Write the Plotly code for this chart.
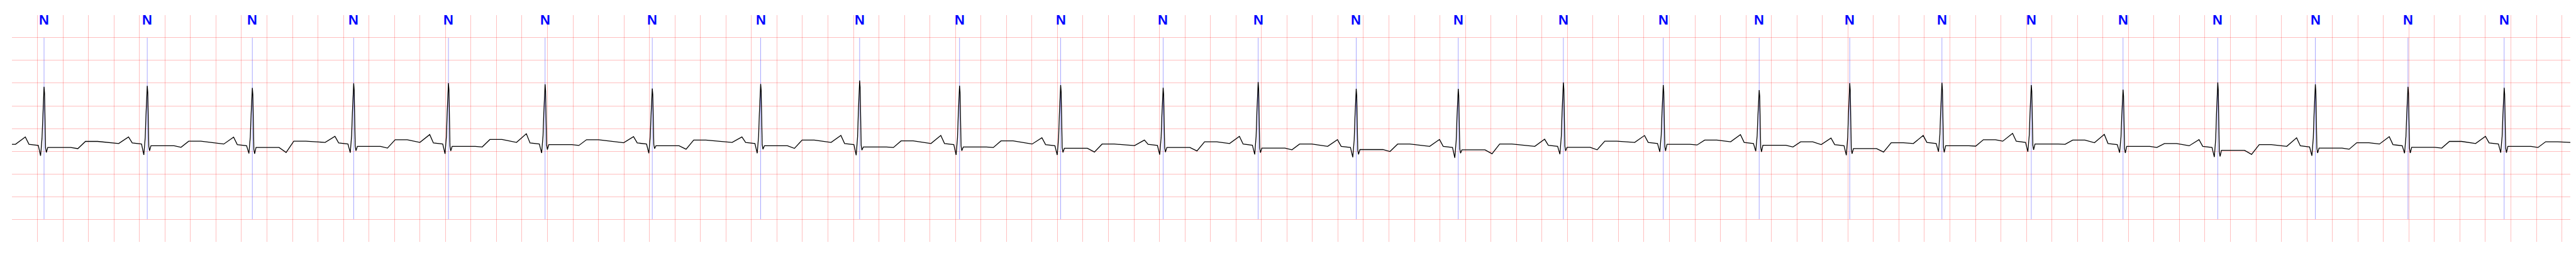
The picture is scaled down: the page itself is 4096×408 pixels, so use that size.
import plotly.graph_objects as go

# ---- data (time in s, amplitude in mV) ----
R_TIMES = [0.2517, 1.0613, 1.8854, 2.6803, 3.4236, 4.1814, 5.0222, 5.8723, 6.6486, 7.4322,
           8.2252, 9.0291, 9.7743, 10.5434, 11.3436, 12.1680, 12.9516, 13.7040, 14.4143,
           15.1373, 15.8382, 16.5577, 17.3007, 18.0660, 18.7927, 19.5470]
LABELS = ["N"] * 26
R_AMP = [0.919, 0.939, 0.894, 0.995, 1.000, 0.975, 0.881, 0.982, 1.058, 0.944, 0.957, 0.899, 1.025,
         0.876, 0.874, 1.015, 0.957, 0.848, 1.000, 1.008, 0.957, 0.856, 1.015, 0.975, 0.919, 0.899]
Q_AMP = [-0.601, -0.583, -0.551, -0.533, -0.558, -0.540, -0.545, -0.545, -0.588, -0.583, -0.583, -0.576, -0.571,
         -0.634, -0.646, -0.566, -0.515, -0.500, -0.588, -0.513, -0.513, -0.533, -0.629, -0.601, -0.545, -0.533]
S_AMP = [-0.528, -0.490, -0.558, -0.490, -0.495, -0.465, -0.444, -0.457, -0.477, -0.490, -0.528, -0.520, -0.533,
         -0.571, -0.545, -0.495, -0.495, -0.515, -0.558, -0.525, -0.470, -0.540, -0.616, -0.540, -0.540, -0.533]
P_AMP = [-0.187, -0.187, -0.192, -0.172, -0.134, -0.116, -0.180, -0.187, -0.154, -0.154, -0.205, -0.255, -0.172,
         -0.247, -0.242, -0.237, -0.154, -0.136, -0.210, -0.154, -0.109, -0.129, -0.247, -0.205, -0.180, -0.172]
PR_LEVEL = [-0.374, -0.343, -0.381, -0.343, -0.343, -0.343, -0.343, -0.331, -0.356, -0.356, -0.381, -0.374, -0.369,
            -0.419, -0.419, -0.394, -0.331, -0.331, -0.381, -0.331, -0.306, -0.356, -0.419, -0.407, -0.381, -0.343]
ST_LEVEL = [-0.419, -0.381, -0.419, -0.394, -0.394, -0.356, -0.381, -0.381, -0.407, -0.407, -0.437, -0.419, -0.432,
            -0.465, -0.470, -0.414, -0.348, -0.369, -0.444, -0.381, -0.343, -0.394, -0.482, -0.432, -0.414, -0.394]
ST_DIP = [-0.444, -0.414, -0.528, -0.432, -0.407, -0.374, -0.457, -0.439, -0.419, -0.419, -0.520, -0.495, -0.470,
          -0.508, -0.558, -0.470, -0.364, -0.407, -0.520, -0.389, -0.348, -0.419, -0.571, -0.457, -0.432, -0.419]
T_LEVEL = [-0.285, -0.280, -0.280, -0.247, -0.242, -0.247, -0.255, -0.255, -0.273, -0.273, -0.343, -0.293, -0.343,
           -0.343, -0.343, -0.280, -0.255, -0.293, -0.313, -0.247, -0.255, -0.331, -0.356, -0.313, -0.285, -0.293]
T_END = [-0.331, -0.343, -0.306, -0.306, -0.306, -0.313, -0.306, -0.306, -0.331, -0.343, -0.376, -0.331, -0.394,
         -0.394, -0.394, -0.306, -0.293, -0.356, -0.331, -0.280, -0.313, -0.381, -0.394, -0.343, -0.331, -0.318]
START_LEVEL = -0.348
END_LEVEL = -0.306
T_MAX = 20.066

# beat timing landmarks relative to the R peak (s)
OFF_P_START, OFF_P_PEAK, OFF_P_DROP, OFF_Q_ON, OFF_Q = -0.224, -0.147, -0.118, -0.045, -0.027
UP_OFFS, UP_FRAC = [-0.016, -0.010, -0.004], [0.25, 0.58, 0.92]
DOWN_OFFS, DOWN_FRAC = [0.004, 0.008, 0.012], [0.90, 0.40, 0.07]
OFF_S, OFF_J, OFF_ST, OFF_DIP, OFF_T_ON, OFF_T_HOLD = 0.018, 0.029, 0.21, 0.265, 0.325, 0.42

# ---- build the trace from the per-beat landmarks ----
xs, ys = [0.0], [START_LEVEL]
prev_end = START_LEVEL
for i, r in enumerate(R_TIMES):
    xs += [r + OFF_P_START, r + OFF_P_PEAK, r + OFF_P_DROP, r + OFF_Q_ON, r + OFF_Q]
    ys += [prev_end, P_AMP[i], PR_LEVEL[i] + 0.025, PR_LEVEL[i], Q_AMP[i]]
    for o, f in zip(UP_OFFS, UP_FRAC):
        xs.append(r + o)
        ys.append(Q_AMP[i] + f * (R_AMP[i] - Q_AMP[i]))
    xs.append(r)
    ys.append(R_AMP[i])
    for o, f in zip(DOWN_OFFS, DOWN_FRAC):
        xs.append(r + o)
        ys.append(S_AMP[i] + f * (R_AMP[i] - S_AMP[i]))
    xs += [r + OFF_S, r + OFF_J, r + OFF_ST, r + OFF_DIP, r + OFF_T_ON, r + OFF_T_HOLD]
    ys += [S_AMP[i], ST_LEVEL[i], ST_LEVEL[i], ST_DIP[i], T_LEVEL[i], T_LEVEL[i]]
    prev_end = T_END[i]
xs.append(T_MAX)
ys.append(END_LEVEL)

# annotation marker lines
bx, by = [], []
for r in R_TIMES:
    bx += [r, r, None]
    by += [-2.0, 2.0, None]

fig = go.Figure()
fig.add_trace(go.Scatter(x=bx, y=by, mode="lines",
                         line=dict(color="rgba(0,0,255,0.5)", width=0.7),
                         hoverinfo="skip", showlegend=False))
fig.add_trace(go.Scatter(x=xs, y=ys, mode="lines",
                         line=dict(color="black", width=1.3),
                         showlegend=False))

for r, lab in zip(R_TIMES, LABELS):
    fig.add_annotation(x=r, y=2.394, xref="x", yref="y", text=lab, showarrow=False,
                       xanchor="center", yanchor="middle",
                       font=dict(family="Liberation Sans Narrow, Liberation Sans, Arial", size=22,
                                 color="#0000ff", weight="bold"))

grid = "rgba(255,0,0,0.25)"
fig.update_layout(
    width=4096, height=408,
    margin=dict(l=19, r=9, t=24, b=24),
    paper_bgcolor="white", plot_bgcolor="white",
    xaxis=dict(range=[0, T_MAX], tick0=0, dtick=0.2, showgrid=True, gridcolor=grid, gridwidth=1.1,
               zeroline=False, showline=False, showticklabels=False, ticks=""),
    yaxis=dict(range=[-2.5, 2.4999], tick0=0, dtick=0.5, showgrid=True, gridcolor=grid, gridwidth=1.1,
               zeroline=False, showline=False, showticklabels=False, ticks=""),
)
fig.write_html("out.html",
               config={"displayModeBar": False},
               post_script="document.body.style.margin='0';document.body.style.padding='0';"
                           "document.body.style.overflow='hidden';")
